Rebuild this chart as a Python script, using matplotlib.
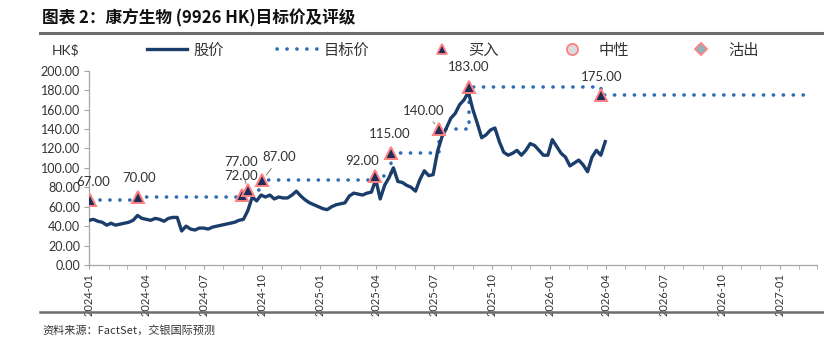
import matplotlib
matplotlib.use('Agg')
import matplotlib.pyplot as plt
import matplotlib.dates as mdates
from matplotlib.lines import Line2D
from matplotlib.ticker import FormatStrFormatter
from matplotlib.font_manager import FontProperties
import pandas as pd

# ---------------- data ----------------
price_start = '2024-01-01'
price_values = [
    46, 47, 45, 44, 41, 43, 41, 42, 43, 44,
    46, 51, 48, 47, 46, 48, 47, 45, 48, 49,
    49, 35, 40, 37, 36, 38, 38, 37, 39, 40,
    41, 42, 43, 44, 46, 47, 56, 70, 66, 72,
    70, 72, 68, 70, 69, 69, 72, 76, 71, 67,
    64, 62, 60, 58, 57, 60, 62, 63, 64, 71,
    74, 73, 72, 74, 75, 88, 68, 82, 90, 100,
    86, 85, 82, 80, 76, 88, 97, 92, 93, 117,
    132, 141, 151, 156, 165, 170, 178, 160, 146, 131,
    134, 139, 141, 127, 116, 113, 115, 118, 113, 118,
    125, 123, 118, 113, 113, 129, 122, 115, 111, 102,
    105, 108, 103, 96, 111, 118, 113, 127,
]
price_dates = pd.date_range(price_start, periods=len(price_values), freq='7D')

target_dates = pd.to_datetime([
    '2024-01-02', '2024-03-19', '2024-08-30', '2024-09-09', '2024-10-02',
    '2025-03-30', '2025-04-24', '2025-07-10', '2025-08-26', '2026-03-24'])
target_values = [67, 70, 72, 77, 87, 92, 115, 140, 183, 175]
target_end = pd.Timestamp('2027-02-20')
ratings = ['买入'] * len(target_values)

x_start = pd.Timestamp('2024-01-01')
x_end = pd.Timestamp('2027-03-01')
y_ticks = list(range(0, 201, 20))

# ---------------- styles ----------------
W, H = 824, 350
price_color = '#1B3D6B'
target_color = '#2E6DB4'
tri_face = '#1F2D5A'
pink = '#FF8080'
text_color = '#333333'
cjk = ['Noto Sans CJK SC', 'DejaVu Sans']
plt.rcParams['font.family'] = ['Lato', 'Noto Sans CJK SC', 'DejaVu Sans']

# label offsets in pixels (dx, dy) and optional leader
label_style = {
    67: (3, 18, False), 70: (1, 19, False), 72: (0, 19, False),
    77: (-7, 28, False), 87: (17, 23, True), 92: (-13, 15, False),
    115: (-1, 19, False), 140: (-16, 18, True), 183: (0, 20, False),
    175: (0, 18, False),
}

fig = plt.figure(figsize=(W / 100, H / 100), dpi=100)
ax = fig.add_axes([89 / W, 1 - 265 / H, (817 - 89) / W, (265 - 70.7) / H])

# price
ax.plot(price_dates, price_values, color=price_color, lw=2.4, solid_joinstyle='round', zorder=3)

# target price step line
tx = list(target_dates) + [target_end]
ty = list(target_values) + [target_values[-1]]
ax.plot(tx, ty, drawstyle='steps-post', color=target_color, lw=2.6,
        linestyle=(0, (0.05, 2.7)), dash_capstyle='round', zorder=2)

# rating markers
buy_d = [d for d, r in zip(target_dates, ratings) if r == '买入']
buy_v = [v for v, r in zip(target_values, ratings) if r == '买入']
ax.plot(buy_d, buy_v, linestyle='none', marker='^', markersize=8,
        markerfacecolor=tri_face, markeredgecolor=pink, markeredgewidth=1.4, zorder=5)

# labels
for d, v in zip(target_dates, target_values):
    dx, dy, leader = label_style[v]
    kw = {}
    if leader:
        kw['arrowprops'] = dict(arrowstyle='-', color='#8C8C8C', lw=0.8, shrinkA=2, shrinkB=5)
    ax.annotate(f'{v:.2f}', xy=(d, v), xytext=(dx, dy), textcoords='offset pixels',
                ha='center', va='center', fontsize=9.5, color=text_color, zorder=6, **kw)
# leader from the 72/77 labels to the 77 marker
ax.annotate('', xy=(target_dates[3], target_values[3]), xytext=(-3, 11),
            textcoords='offset pixels',
            arrowprops=dict(arrowstyle='-', color='#8C8C8C', lw=0.8, shrinkA=0, shrinkB=5))

# axes
ax.set_xlim(x_start, x_end)
ax.set_ylim(0, 200)
ax.set_yticks(y_ticks)
ax.yaxis.set_major_formatter(FormatStrFormatter('%.2f'))
ax.xaxis.set_major_locator(mdates.MonthLocator(bymonth=[1, 4, 7, 10]))
ax.xaxis.set_minor_locator(mdates.MonthLocator())
ax.xaxis.set_major_formatter(mdates.DateFormatter('%Y-%m'))
for s in ['top', 'right']:
    ax.spines[s].set_visible(False)
for s in ['left', 'bottom']:
    ax.spines[s].set_color('#A6A6A6')
    ax.spines[s].set_linewidth(0.9)
ax.tick_params(axis='y', length=3.5, color='#A6A6A6', labelsize=9, labelcolor=text_color, pad=3)
ax.tick_params(axis='x', which='both', length=3, color='#A6A6A6', labelsize=8,
               labelcolor=text_color, labelrotation=90, pad=3)

# legend
handles = [
    Line2D([], [], color=price_color, lw=2.4),
    Line2D([], [], color=target_color, lw=2.6, linestyle=(0, (0.05, 2.7)), dash_capstyle='round'),
    Line2D([], [], linestyle='none', marker='^', markersize=7.5, markerfacecolor=tri_face,
           markeredgecolor=pink, markeredgewidth=1.3),
    Line2D([], [], linestyle='none', marker='o', markersize=8, markerfacecolor='#DCDCDC',
           markeredgecolor=pink, markeredgewidth=1.3),
    Line2D([], [], linestyle='none', marker='D', markersize=6.5, markerfacecolor='#8FB4C0',
           markeredgecolor=pink, markeredgewidth=1.3),
]
labels = ['股价', '目标价', '买入', '中性', '沽出']
leg = ax.legend(handles, labels, loc='center left', bbox_to_anchor=(147 / W, 1 - 50 / H),
                bbox_transform=fig.transFigure, ncol=5, frameon=False, handlelength=2.6,
                handletextpad=0.45, columnspacing=3.45, borderpad=0, borderaxespad=0,
                prop=FontProperties(family=cjk, size=11))
for t in leg.get_texts():
    t.set_color(text_color)

fig.text(52 / W, 1 - 50 / H, 'HK$', fontsize=10, color=text_color, va='center', ha='left')

# title, rules, source
fig.text(42 / W, 1 - 18 / H, '图表 2：康方生物 (9926 HK)目标价及评级', fontsize=12,
         fontweight='bold', family=cjk, color='#111111', va='center', ha='left')
fig.add_artist(Line2D([40 / W, 1], [1 - 33 / H] * 2, color='#6E6E6E', lw=2.2,
                      transform=fig.transFigure))
fig.add_artist(Line2D([40 / W, 1], [1 - 312 / H] * 2, color='#6E6E6E', lw=1.8,
                      transform=fig.transFigure))
fig.text(42 / W, 1 - 330 / H, '资料来源：FactSet，交银国际预测', fontsize=8, style='italic',
         family=cjk, color=text_color, va='center', ha='left')

fig.savefig('out.png', dpi=100)
